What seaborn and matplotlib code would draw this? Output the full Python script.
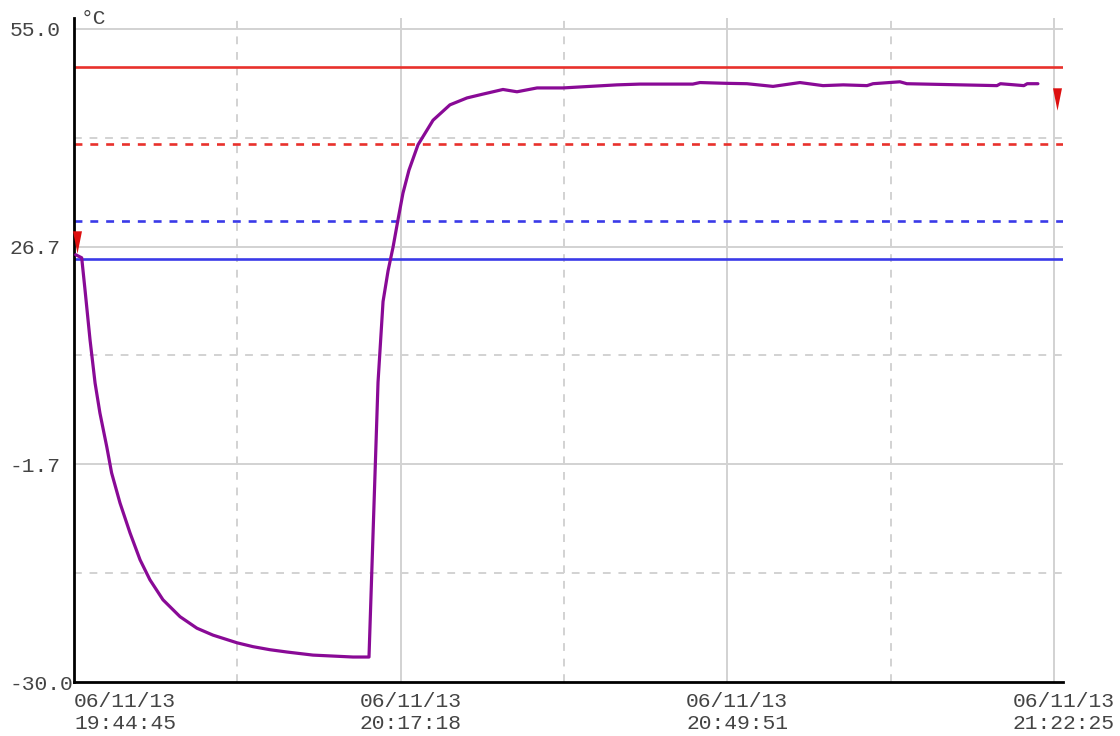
import numpy as np
import matplotlib
matplotlib.use("Agg")
import matplotlib.pyplot as plt
import matplotlib.transforms as mtransforms
from matplotlib.path import Path
import seaborn as sns

# logger trace, seconds after 19:44:45
elapsed_s = [10, 46, 66, 96, 126, 155, 196, 225, 275, 335, 395, 454, 532, 634,
             735, 831, 975, 1070, 1172, 1274, 1429, 1668, 1764,
             1818, 1848, 1878, 1908, 1937, 1967, 2003, 2057, 2147, 2248, 2350,
             2446, 2565, 2649, 2769, 2924, 3044, 3247, 3384, 3700, 3743, 3900,
             4024, 4180, 4341, 4479, 4600, 4742, 4778, 4939, 4980, 5519, 5540,
             5680, 5700, 5764]
temp_c = [25.6, 25.2, 21.0, 14.5, 8.9, 5.0, 0.6, -2.8, -6.7, -10.6, -14.1, -16.7,
          -19.3, -21.5, -23.0, -23.9, -24.9, -25.4, -25.8, -26.1, -26.5, -26.75,
          -26.75,
          9.0, 19.5, 23.5, 26.6, 30.1, 33.6, 36.6, 39.9, 43.1, 45.1, 46.0,
          46.5, 47.1, 46.8, 47.3, 47.3, 47.45, 47.7, 47.8, 47.8, 48.0, 47.9,
          47.85, 47.5, 48.0, 47.6, 47.7, 47.6, 47.85, 48.1, 47.85, 47.6, 47.85,
          47.6, 47.85, 47.85]

# alarm limits
high_alarm = 50.0
high_warn = 40.0
low_warn = 30.0
low_alarm = 25.0

# red markers (start / end)
marker_s = [18, 5878]
marker_c = [27.3, 45.8]

x_tick_s = [0, 1953, 3906, 5860]
x_tick_labels = ["06/11/13\n19:44:45", "06/11/13\n20:17:18",
                 "06/11/13\n20:49:51", "06/11/13\n21:22:25"]
y_tick_labels = ["-30.0", "-1.7", "26.7", "55.0"]

sns.set_style("white")
plt.rcParams["font.family"] = ["Liberation Mono", "DejaVu Sans Mono"]

fig = plt.figure(figsize=(11.2, 7.36), dpi=100)
ax = fig.add_axes([74 / 1120, 1 - 682 / 736, (1063 - 74) / 1120, (682 - 18) / 736])

y_ticks = np.linspace(-30, 55, 4)
ax.set_xlim(0, 5914)
ax.set_ylim(-30, 56.4)

# grid
grid_c = "#d2d2d2"
for v in y_ticks[1:]:
    ax.axhline(v, color=grid_c, lw=1.4, zorder=0)
for v in (y_ticks[:-1] + y_ticks[1:]) / 2:
    ax.axhline(v, color=grid_c, lw=1.4, ls=(0, (4, 4)), zorder=0)
for v in x_tick_s[1:]:
    ax.axvline(v, color=grid_c, lw=1.4, zorder=0)
for a, b in zip(x_tick_s[:-1], x_tick_s[1:]):
    ax.axvline((a + b) / 2, color=grid_c, lw=1.4, ls=(0, (4, 4)), zorder=0)

# limit lines
red = "#e8312c"
blue = "#3a3ae8"
ax.axhline(high_alarm, color=red, lw=1.9, zorder=2)
ax.axhline(high_warn, color=red, lw=1.9, ls=(0, (3, 3)), zorder=2)
ax.axhline(low_warn, color=blue, lw=1.9, ls=(0, (3, 3)), zorder=2)
ax.axhline(low_alarm, color=blue, lw=1.9, zorder=2)

sns.lineplot(x=elapsed_s, y=temp_c, ax=ax, color="#890a96", lw=2.3, zorder=3)

tri = Path([(-0.4, 1), (0.4, 1), (0, -1), (-0.4, 1)],
           [Path.MOVETO, Path.LINETO, Path.LINETO, Path.CLOSEPOLY])
ax.scatter(marker_s, marker_c, marker=tri, s=260, color="#dd0f0f",
           linewidths=0, zorder=4, clip_on=False)

# axes styling
for s in ("top", "right"):
    ax.spines[s].set_visible(False)
for s in ("left", "bottom"):
    ax.spines[s].set_color("black")
    ax.spines[s].set_linewidth(2)

ax.set_yticks(y_ticks)
ax.set_yticklabels(y_tick_labels)
ax.set_xticks(x_tick_s)
ax.set_xticklabels(x_tick_labels, linespacing=1.2)
ax.tick_params(axis="both", direction="inout", length=11, width=1.6,
               color="black", labelsize=15.3, labelcolor="#444444")
ax.tick_params(axis="y", pad=3)
ax.tick_params(axis="x", pad=2)

for i, lab in enumerate(ax.get_xticklabels()):
    if i == 0:
        lab.set_horizontalalignment("left")
    else:
        lab.set_transform(lab.get_transform() +
                          mtransforms.ScaledTranslation(10 / 100, 0, fig.dpi_scale_trans))

# y labels are left aligned in the original
for lab in ax.get_yticklabels():
    lab.set_horizontalalignment("left")
    lab.set_transform(lab.get_transform() +
                      mtransforms.ScaledTranslation(-53 / 100, 0, fig.dpi_scale_trans))

ax.set_xlabel("")
ax.set_ylabel("")
ax.annotate("°C", xy=(0, 1), xycoords="axes fraction", xytext=(5, 0),
            textcoords="offset points", fontsize=15.3, color="#444444",
            va="center", ha="left")

fig.savefig("out.png", dpi=100, facecolor="white")
